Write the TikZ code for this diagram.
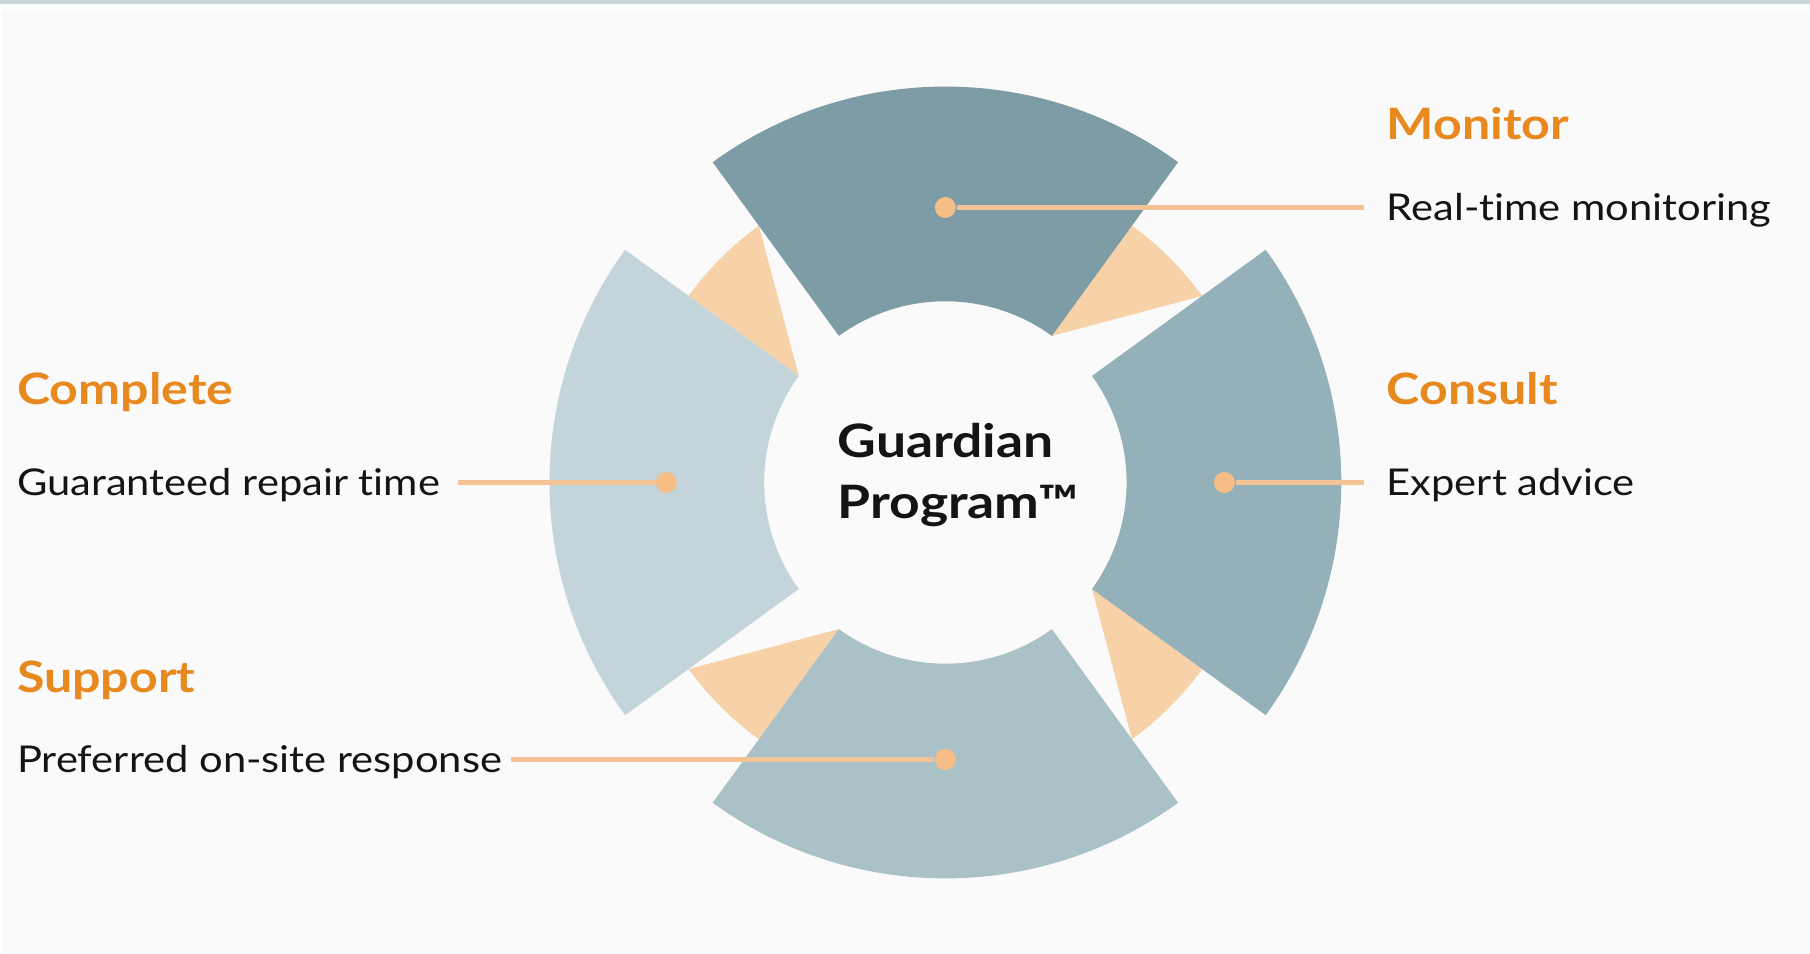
\documentclass[tikz,border=0pt]{standalone}
\usepackage{fontspec}
\setmainfont{Lato}[Ligatures=NoCommon,FakeStretch=1.13,BoldFeatures={FakeStretch=1.16}]
\usetikzlibrary{positioning}

\definecolor{ringA}{HTML}{7E9CA6}
\definecolor{ringB}{HTML}{94B0B8}
\definecolor{ringC}{HTML}{ABC1C8}
\definecolor{ringD}{HTML}{C3D5DB}
\definecolor{wedge}{HTML}{F7D1A7}
\definecolor{lead}{HTML}{F4C496}
\definecolor{knob}{HTML}{F6BD86}
\definecolor{title}{HTML}{E8891F}
\definecolor{ink}{HTML}{141414}
\definecolor{paper}{HTML}{FAFAFA}
\definecolor{strip}{HTML}{C9D6DC}

\tikzset{
  bullet/.style={circle,fill=knob,inner sep=0pt,minimum size=0.21cm},
  leader/.style={draw=lead,line width=1.4pt},
  head/.style={font=\bfseries\fontsize{12.3}{14}\selectfont,text=title,inner sep=0pt,anchor=base west},
  body/.style={font=\fontsize{10.5}{12}\selectfont,text=ink,inner sep=0pt,anchor=base west},
  hub/.style={font=\bfseries\fontsize{13.1}{15}\selectfont,text=ink,inner sep=0pt,anchor=base west}
}

\def\rin{1.812}
\def\rout{3.959}
\def\rw{3.174}

\begin{document}
\begin{tikzpicture}
% page
\fill[white] (-9.454,-4.715) rectangle (8.646,4.825);
\fill[paper] (-9.444,-4.715) rectangle (8.646,4.735);
\fill[strip] (-9.454,4.785) rectangle (8.646,4.825);
\useasboundingbox (-9.454,-4.715) rectangle (8.646,4.825);

% orange arrow heads between the segments
\foreach \a in {36,126,216,306}
  \fill[wedge] (\a+18:\rin) -- (\a+18:\rw) arc[start angle=\a+18,end angle=\a,radius=\rw] -- cycle;

% ring segments
\foreach \a/\c in {90/ringA,0/ringB,270/ringC,180/ringD}
  \fill[\c] (\a-36:\rin) -- (\a-36:\rout) arc[start angle=\a-36,end angle=\a+36,radius=\rout]
    -- (\a+36:\rin) arc[start angle=\a+36,end angle=\a-36,radius=\rin] -- cycle;

% centre
\node[hub] (guardian) at (-1.084,0.245) {Guardian};
\node[hub] (program) at ([yshift=-0.61cm]guardian.base west) {Program™};

% free ends of the leaders
\coordinate (monEnd) at (4.19,2.75);
\coordinate (conEnd) at (4.19,0);
\coordinate (comEnd) at (-4.871,0);
\coordinate (supEnd) at (-4.34,-2.77);

% bullets
\node[bullet] (mon) at (0,2.75) {};
\node[bullet] (con) at (2.79,0) {};
\node[bullet] (com) at (-2.79,0) {};
\node[bullet] (sup) at (0,-2.77) {};

\draw[leader] (mon) -- (monEnd);
\draw[leader] (con) -- (conEnd);
\draw[leader] (com) -- (comEnd);
\draw[leader] (sup) -- (supEnd);

% labels
\node[head] (monT) at (4.406,3.425) {Monitor};
\node[body] (monB) at (4.406,2.62) {Real-time monitoring};
\node[head] (conT) at (4.406,0.78) {Consult};
\node[body] (conB) at (4.406,-0.13) {Expert advice};
\node[head] (comT) at (-9.29,0.78) {Complete};
\node[body] (comB) at (-9.29,-0.13) {Guaranteed repair time};
\node[head] (supT) at (-9.29,-2.105) {Support};
\node[body] (supB) at (-9.29,-2.90) {Preferred on-site response};
\end{tikzpicture}
\end{document}
